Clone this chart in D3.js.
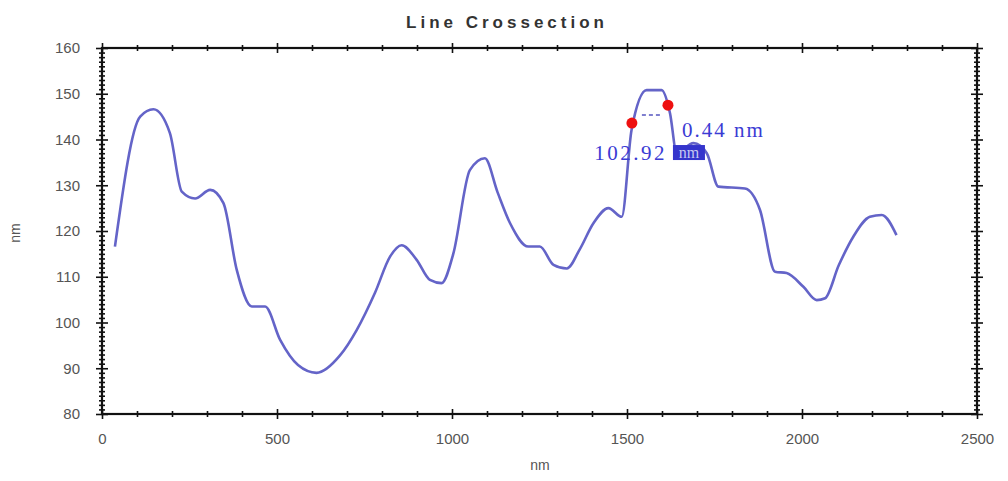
<!DOCTYPE html>
<html>
<head>
<meta charset="utf-8">
<script src="https://cdn.jsdelivr.net/npm/d3@7"></script>
<style>
  body { margin: 0; background: #fff; }
  svg { display: block; }
  .axis path { display: none; }
  .axis text { font-family: "Liberation Sans", Arial, sans-serif; font-size: 15px; fill: #555; }
</style>
</head>
<body>
<div id="chart"></div>
<script>
// profile along the scan line (distance in nm, height in nm)
const distance = [37, 109, 147, 194, 228, 266, 309, 347, 385, 428, 466, 509, 560, 613, 680, 728, 780, 823, 856, 899, 937, 970, 1004, 1051, 1094, 1130, 1166, 1218, 1251, 1290, 1328, 1365, 1404, 1447, 1485, 1513, 1556, 1599, 1623, 1642, 1690, 1728, 1761, 1837, 1880, 1923, 1956, 2004, 2042, 2066, 2105, 2147, 2194, 2228, 2270];
const height = [116.6, 145.0, 146.6, 141.4, 128.6, 127.1, 129.0, 126.1, 111.5, 103.5, 103.5, 96.2, 90.7, 89.0, 92.8, 98.4, 106.5, 114.4, 116.9, 113.7, 109.3, 108.6, 115.1, 133.3, 135.9, 128.5, 121.7, 116.6, 116.6, 112.6, 111.8, 116.0, 121.7, 125.0, 123.1, 142.1, 150.8, 150.8, 145.7, 137.0, 139.2, 137.0, 129.7, 129.3, 124.6, 111.1, 110.8, 107.8, 104.9, 105.3, 112.5, 118.8, 123.1, 123.5, 119.1];

// cursor markers and measurement labels
const markerX = [1514, 1617];
const markerY = [143.6, 147.5];
const labelHeight = '0.44 nm';
const labelWidth = '102.92';
const labelWidthUnit = 'nm';

const xMajor = [0, 500, 1000, 1500, 2000, 2500];
const yMajor = [80, 90, 100, 110, 120, 130, 140, 150, 160];
const title = 'Line Crossection';
const xTitle = 'nm';
const yTitle = 'nm';

const W = 1008, H = 481;
const plot = { left: 102, right: 977, top: 48, bottom: 414 };

const svg = d3.select('#chart').append('svg')
  .attr('width', W)
  .attr('height', H);

const x = d3.scaleLinear().domain([0, 2500]).range([plot.left, plot.right]);
const y = d3.scaleLinear().domain([80, 160]).range([plot.bottom, plot.top]);

const xMinor = d3.range(0, 2501, 100).filter(v => xMajor.indexOf(v) < 0);
const yMinor = d3.range(80, 161, 1).filter(v => yMajor.indexOf(v) < 0);

// crossing ticks: stretch each tick line to both sides of the axis
function cross (g, len, vertical) {
  g.selectAll('.tick line')
    .attr(vertical ? 'x1' : 'y1', -len)
    .attr(vertical ? 'x2' : 'y2', len)
    .attr('stroke', '#111')
    .attr('stroke-width', 1.6);
}

function addAxis (axisFn, pos, values, len, labels, vertical) {
  const ax = axisFn.tickValues(values).tickSize(len);
  if (!labels) ax.tickFormat('');
  else ax.tickFormat(d3.format('d')).tickPadding(vertical ? 16 : 14);
  const g = svg.append('g')
    .attr('class', 'axis')
    .attr('transform', vertical ? `translate(${pos},0)` : `translate(0,${pos})`)
    .call(ax);
  cross(g, len, vertical);
  return g;
}

// bottom / top
addAxis(d3.axisBottom(x), plot.bottom, xMinor, 3, false, false);
addAxis(d3.axisBottom(x), plot.bottom, xMajor, 5, true, false);
addAxis(d3.axisTop(x), plot.top, xMinor, 3, false, false);
addAxis(d3.axisTop(x), plot.top, xMajor, 5, false, false);
// left / right
addAxis(d3.axisLeft(y), plot.left, yMinor, 3, false, true);
addAxis(d3.axisLeft(y), plot.left, yMajor, 6, true, true);
addAxis(d3.axisRight(y), plot.right, yMinor, 3, false, true);
addAxis(d3.axisRight(y), plot.right, yMajor, 6, false, true);

// frame
svg.append('rect')
  .attr('x', plot.left)
  .attr('y', plot.top)
  .attr('width', plot.right - plot.left)
  .attr('height', plot.bottom - plot.top)
  .attr('fill', 'none')
  .attr('stroke', '#111')
  .attr('stroke-width', 2.2);

// titles
svg.append('text')
  .attr('x', 507)
  .attr('y', 28)
  .attr('text-anchor', 'middle')
  .style('font-family', '"Liberation Sans", Arial, sans-serif')
  .style('font-weight', 'bold')
  .style('font-size', '17px')
  .style('letter-spacing', '4px')
  .style('fill', '#333')
  .text(title);

svg.append('text')
  .attr('x', 540)
  .attr('y', 470)
  .attr('text-anchor', 'middle')
  .style('font-family', '"Liberation Sans", Arial, sans-serif')
  .style('font-size', '14px')
  .style('fill', '#555')
  .text(xTitle);

svg.append('text')
  .attr('transform', `translate(20, ${(plot.top + plot.bottom) / 2 + 2}) rotate(-90)`)
  .attr('text-anchor', 'middle')
  .style('font-family', '"Liberation Sans", Arial, sans-serif')
  .style('font-size', '14px')
  .style('fill', '#555')
  .text(yTitle);

// profile line
const pts = distance.map((d, i) => [d, height[i]]);
svg.append('path')
  .datum(pts)
  .attr('fill', 'none')
  .attr('stroke', '#6464c8')
  .attr('stroke-width', 2.6)
  .attr('stroke-linejoin', 'round')
  .attr('d', d3.line()
    .x(d => x(d[0]))
    .y(d => y(d[1]))
    .curve(d3.curveMonotoneX));

// measurement annotation
svg.append('line')
  .attr('x1', x(markerX[0]) + 10)
  .attr('x2', x(markerX[1]) - 6)
  .attr('y1', y((markerY[0] + markerY[1]) / 2) + 1)
  .attr('y2', y((markerY[0] + markerY[1]) / 2) + 1)
  .attr('stroke', '#5555c0')
  .attr('stroke-width', 1.5)
  .attr('stroke-dasharray', '4,3');

svg.selectAll('.marker')
  .data(markerX)
  .enter().append('circle')
  .attr('class', 'marker')
  .attr('cx', d => x(d))
  .attr('cy', (d, i) => y(markerY[i]))
  .attr('r', 5.5)
  .attr('fill', '#ee1010');

const serif = '"Liberation Serif", "Times New Roman", serif';
svg.append('text')
  .attr('x', x(markerX[1]) + 14)
  .attr('y', y(markerY[1]) + 32)
  .style('font-family', serif)
  .style('font-size', '21px')
  .style('letter-spacing', '2px')
  .style('fill', '#3b3bd4')
  .text(labelHeight);

svg.append('text')
  .attr('x', x(markerX[1]) - 1)
  .attr('y', y(markerY[0]) + 37)
  .attr('text-anchor', 'end')
  .style('font-family', serif)
  .style('font-size', '21px')
  .style('letter-spacing', '2.5px')
  .style('fill', '#3b3bd4')
  .text(labelWidth);

svg.append('rect')
  .attr('x', x(markerX[1]) + 5)
  .attr('y', y(markerY[0]) + 22)
  .attr('width', 32)
  .attr('height', 15)
  .attr('fill', '#3535cc');

svg.append('text')
  .attr('x', x(markerX[1]) + 21)
  .attr('y', y(markerY[0]) + 35)
  .attr('text-anchor', 'middle')
  .style('font-family', serif)
  .style('font-size', '16px')
  .style('fill', '#c8c8f0')
  .text(labelWidthUnit);
</script>
</body>
</html>
